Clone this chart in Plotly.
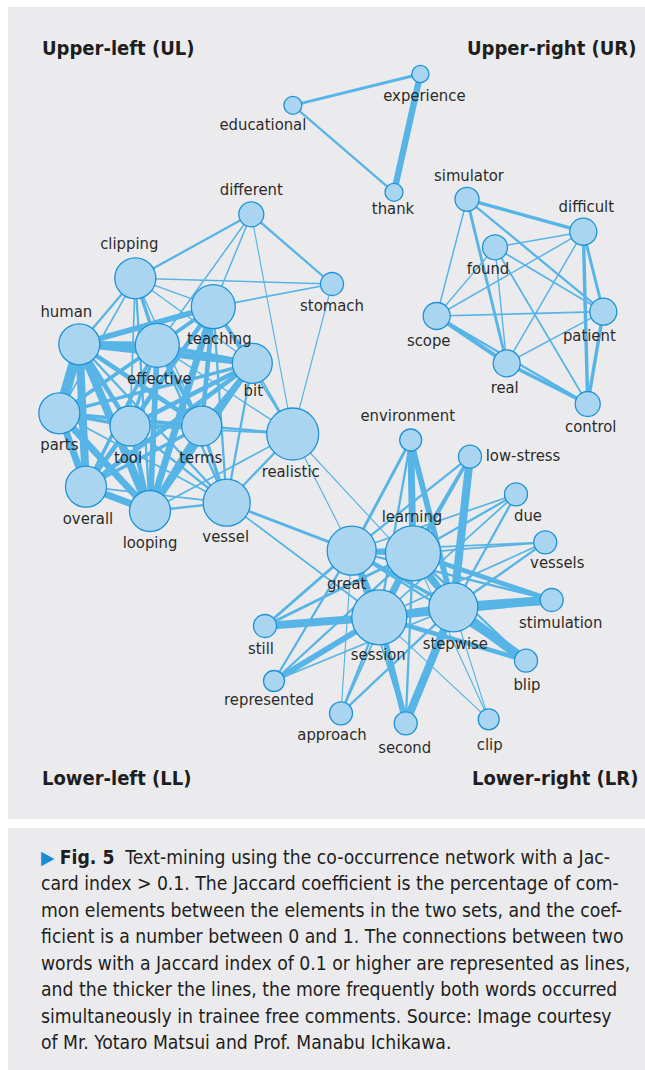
import plotly.graph_objects as go

# ---------------- data ----------------
words = ["experience", "educational", "thank",
         "simulator", "difficult", "found", "scope", "patient", "real", "control",
         "different", "clipping", "stomach", "teaching", "human", "effective", "bit",
         "parts", "tool", "terms", "realistic", "overall", "looping", "vessel",
         "environment", "low-stress", "due", "vessels", "great", "learning",
         "stimulation", "session", "stepwise", "still", "blip", "represented",
         "approach", "second", "clip"]
node_x = [420.4, 292.9, 394.0,
          467.0, 583.3, 495.0, 436.7, 603.3, 506.7, 587.7,
          251.3, 135.3, 332.0, 213.3, 79.3, 157.3, 252.3,
          59.3, 130.0, 201.7, 292.7, 86.0, 150.0, 226.7,
          410.7, 470.0, 516.0, 545.3, 351.7, 413.0,
          551.7, 379.3, 453.3, 265.0, 526.0, 274.0,
          341.0, 405.7, 488.7]
node_y = [74.0, 105.3, 192.3,
          199.3, 231.7, 247.3, 316.0, 311.7, 363.3, 404.0,
          214.3, 278.3, 284.0, 306.7, 344.3, 345.3, 363.3,
          413.3, 426.0, 426.0, 434.0, 486.7, 511.0, 502.7,
          440.0, 456.7, 494.3, 542.3, 550.7, 553.3,
          600.0, 617.3, 607.3, 626.0, 660.7, 681.0,
          713.3, 723.3, 719.3]
# frequency (drawn as circle radius)
node_freq = [8.6, 9.0, 9.0,
             12.0, 13.5, 12.5, 13.5, 13.5, 13.5, 12.5,
             12.5, 20.5, 11.5, 22.0, 20.5, 22.0, 20.0,
             20.5, 20.0, 20.0, 26.0, 20.5, 20.5, 23.5,
             11.0, 11.5, 11.5, 11.5, 24.5, 27.5,
             11.5, 27.5, 24.5, 11.5, 11.5, 10.5,
             11.5, 11.5, 10.5]

edge_from = []
edge_to = []
edge_weight = []
def _e(a, b, w):
    edge_from.append(a); edge_to.append(b); edge_weight.append(w)

# triangle
for a, b, w in [("educational", "experience", 2.5), ("educational", "thank", 2), ("experience", "thank", 5.5)]:
    _e(a, b, w)
# upper-right
for a, b, w in [("simulator", "difficult", 3), ("simulator", "scope", 1.3), ("simulator", "real", 2.5),
                ("simulator", "patient", 2), ("found", "difficult", 1.3), ("found", "scope", 1.2),
                ("found", "real", 1.2), ("found", "patient", 1.5), ("found", "control", 1.5),
                ("scope", "difficult", 1.3), ("scope", "patient", 1.5), ("scope", "real", 3.5),
                ("scope", "control", 2), ("real", "difficult", 1.3), ("real", "patient", 1.3),
                ("real", "control", 3), ("difficult", "patient", 2.5), ("difficult", "control", 3),
                ("patient", "control", 3)]:
    _e(a, b, w)
# upper-left
for a, b, w in [("different", "clipping", 2), ("different", "teaching", 1.3), ("different", "effective", 1.3),
                ("different", "realistic", 1), ("different", "stomach", 2),
                ("stomach", "clipping", 1.2), ("stomach", "teaching", 1.5), ("stomach", "realistic", 1),
                ("clipping", "human", 2), ("clipping", "parts", 1.5), ("clipping", "tool", 1.5),
                ("clipping", "effective", 3), ("clipping", "looping", 2), ("clipping", "terms", 1.2),
                ("clipping", "teaching", 1.2), ("clipping", "bit", 1.2),
                ("human", "parts", 9), ("human", "overall", 7), ("human", "looping", 7),
                ("human", "effective", 6), ("human", "teaching", 5), ("human", "bit", 5),
                ("human", "tool", 4), ("human", "terms", 4), ("human", "vessel", 2),
                ("effective", "teaching", 3), ("effective", "bit", 4), ("effective", "parts", 3),
                ("effective", "tool", 3), ("effective", "terms", 4), ("effective", "overall", 3),
                ("effective", "looping", 5), ("effective", "vessel", 2),
                ("teaching", "bit", 3), ("teaching", "parts", 3), ("teaching", "tool", 4),
                ("teaching", "terms", 4), ("teaching", "overall", 3), ("teaching", "looping", 6),
                ("teaching", "vessel", 2), ("teaching", "realistic", 1.5),
                ("bit", "parts", 3), ("bit", "tool", 4), ("bit", "terms", 3), ("bit", "overall", 4),
                ("bit", "looping", 5), ("bit", "vessel", 2), ("bit", "realistic", 1.5),
                ("parts", "tool", 3), ("parts", "terms", 3), ("parts", "overall", 6),
                ("parts", "looping", 6), ("parts", "vessel", 1.5),
                ("tool", "terms", 3), ("tool", "overall", 4), ("tool", "looping", 4), ("tool", "vessel", 2),
                ("tool", "realistic", 1.2),
                ("terms", "overall", 3), ("terms", "looping", 5), ("terms", "vessel", 3),
                ("terms", "realistic", 2), ("effective", "realistic", 1.2),
                ("overall", "looping", 6), ("overall", "vessel", 1.5),
                ("looping", "vessel", 2), ("looping", "realistic", 1.5), ("vessel", "realistic", 2)]:
    _e(a, b, w)
# bridges
for a, b, w in [("realistic", "great", 1), ("realistic", "stepwise", 1),
                ("vessel", "great", 2.5), ("vessel", "session", 1.5)]:
    _e(a, b, w)
# lower-right
for a, b, w in [("environment", "learning", 6), ("environment", "great", 2.5), ("environment", "stepwise", 5),
                ("environment", "session", 2),
                ("low-stress", "learning", 3), ("low-stress", "stepwise", 7), ("low-stress", "great", 2),
                ("low-stress", "session", 2.5),
                ("due", "learning", 2), ("due", "great", 1.5), ("due", "stepwise", 2), ("due", "session", 1.5),
                ("vessels", "learning", 1.5), ("vessels", "great", 1.5), ("vessels", "stepwise", 2),
                ("vessels", "session", 1.5),
                ("stimulation", "learning", 4), ("stimulation", "stepwise", 8), ("stimulation", "session", 6),
                ("stimulation", "great", 2),
                ("still", "great", 2.5), ("still", "learning", 2.5), ("still", "session", 7), ("still", "stepwise", 2),
                ("represented", "great", 2), ("represented", "learning", 2), ("represented", "session", 5),
                ("represented", "stepwise", 1.5),
                ("approach", "great", 1), ("approach", "session", 2), ("approach", "learning", 1.5),
                ("approach", "stepwise", 2),
                ("second", "session", 5), ("second", "stepwise", 7), ("second", "learning", 2),
                ("second", "great", 1.5),
                ("clip", "stepwise", 1), ("clip", "session", 1), ("clip", "learning", 1),
                ("blip", "stepwise", 8), ("blip", "session", 4), ("blip", "learning", 2), ("blip", "great", 2),
                ("great", "learning", 5), ("great", "session", 6), ("great", "stepwise", 3),
                ("learning", "session", 6), ("learning", "stepwise", 6), ("session", "stepwise", 7)]:
    _e(a, b, w)

quadrant_labels = ["Upper-left (UL)", "Upper-right (UR)", "Lower-left (LL)", "Lower-right (LR)"]

caption_lines = [
    "Text-mining using the co-occurrence network with a Jac-",
    "card index &gt; 0.1. The Jaccard coefficient is the percentage of com-",
    "mon elements between the elements in the two sets, and the coef-",
    "ficient is a number between 0 and 1. The connections between two",
    "words with a Jaccard index of 0.1 or higher are represented as lines,",
    "and the thicker the lines, the more frequently both words occurred",
    "simultaneously in trainee free comments. Source: Image courtesy",
    "of Mr. Yotaro Matsui and Prof. Manabu Ichikawa.",
]

# ---------------- style / layout ----------------
FONT = "Liberation Sans Narrow, DejaVu Sans Condensed, Roboto Condensed, Arial Narrow, Roboto, sans-serif"
EDGE_COL = "#56b4e6"
NODE_FILL = "#a9d5f1"
NODE_LINE = "#1f93d6"
TXT = "#2b2b2b"
BG = "#ebebed"
EDGE_SCALE = 1.15

label_offset = {
    "experience": (4, 23), "educational": (-30, 21), "thank": (-1, 18), "simulator": (2, -22),
    "difficult": (3, -24), "found": (-7, 23), "scope": (-8, 26), "patient": (-14, 25),
    "real": (-2, 26), "control": (3, 24), "different": (0, -23), "clipping": (-6, -33),
    "stomach": (0, 23), "teaching": (6, 33), "human": (-13, -31), "effective": (2, 35),
    "bit": (1, 29), "parts": (0, 33), "tool": (-2, 33), "terms": (-1, 33), "realistic": (-2, 39),
    "overall": (2, 33), "looping": (0, 33), "vessel": (-1, 35), "environment": (-3, -23),
    "low-stress": (53, 0), "due": (12, 23), "vessels": (12, 22), "great": (-5, 34),
    "learning": (-1, -35), "stimulation": (9, 24), "session": (-1, 39), "stepwise": (2, 38),
    "still": (-4, 24), "blip": (1, 25), "represented": (-5, 20), "approach": (-9, 23),
    "second": (-1, 26), "clip": (1, 27),
}

idx = {w: i for i, w in enumerate(words)}

fig = go.Figure()

# edges grouped by weight
for w in sorted(set(edge_weight)):
    xs, ys = [], []
    for a, b, ww in zip(edge_from, edge_to, edge_weight):
        if ww == w:
            xs += [node_x[idx[a]], node_x[idx[b]], None]
            ys += [node_y[idx[a]], node_y[idx[b]], None]
    fig.add_trace(go.Scatter(x=xs, y=ys, mode="lines",
                             line=dict(color=EDGE_COL, width=w * EDGE_SCALE),
                             hoverinfo="skip", showlegend=False))

# nodes
fig.add_trace(go.Scatter(x=node_x, y=node_y, mode="markers",
                         marker=dict(size=[2 * r for r in node_freq], color=NODE_FILL, opacity=1,
                                     line=dict(color=NODE_LINE, width=1.3)),
                         text=words, hoverinfo="text", showlegend=False))

# node labels
fig.add_trace(go.Scatter(
    x=[node_x[i] + label_offset[w][0] for i, w in enumerate(words)],
    y=[node_y[i] + label_offset[w][1] for i, w in enumerate(words)],
    mode="text", text=words, textposition="middle center",
    textfont=dict(family=FONT, size=16.5, color=TXT),
    hoverinfo="skip", showlegend=False))

shapes = [
    dict(type="rect", xref="x", yref="y", x0=8, x1=660, y0=7, y1=819,
         fillcolor=BG, line=dict(width=0), layer="below"),
    dict(type="rect", xref="x", yref="y", x0=8, x1=660, y0=828, y1=1080,
         fillcolor=BG, line=dict(width=0), layer="below"),
]

annotations = []
q_pos = [(40, 48, "left"), (638, 48, "right"), (40, 778, "left"), (640, 778, "right")]
for text, (x, y, anc) in zip(quadrant_labels, q_pos):
    annotations.append(dict(x=x, y=y, xref="x", yref="y", text="<b>" + text + "</b>",
                            showarrow=False, xanchor=anc, yanchor="middle",
                            font=dict(family=FONT, size=20, color="#1e1e1e")))

cap_y0 = 857
cap_dy = 26.5
for k, line in enumerate(caption_lines):
    t = line
    if k == 0:
        t = ("<span style='color:#1a8ad4'>▶</span> <b>Fig. 5</b>  " + line)
    annotations.append(dict(x=39, y=cap_y0 + k * cap_dy, xref="x", yref="y", text=t,
                            showarrow=False, xanchor="left", yanchor="middle",
                            font=dict(family=FONT, size=19.2, color="#1e1e1e")))

fig.update_layout(
    width=645, height=1070, autosize=False,
    margin=dict(l=0, r=0, t=0, b=0),
    paper_bgcolor="white", plot_bgcolor="white",
    xaxis=dict(range=[0, 645], visible=False, fixedrange=True),
    yaxis=dict(range=[1070, 0], visible=False, fixedrange=True),
    shapes=shapes, annotations=annotations, showlegend=False,
)

fig.write_html("out.html", config={"displayModeBar": False},
               post_script="document.body.style.margin='0';")
